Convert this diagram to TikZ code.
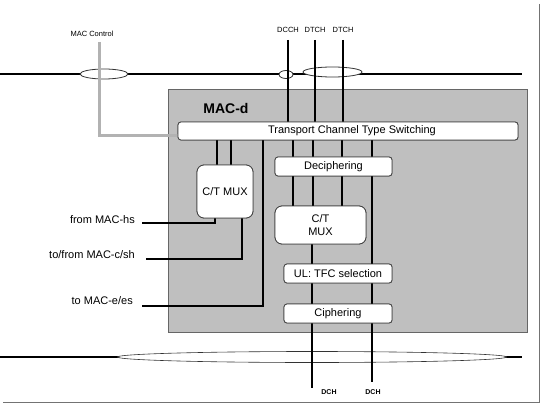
\documentclass[tikz,border=0pt]{standalone}
\usepackage{fontspec}
\setmainfont{Liberation Sans}
\usetikzlibrary{shapes.geometric}
\begin{document}
\begin{tikzpicture}[x=1pt,y=-1pt,
  box/.style={draw=black!75, line width=0.8pt, fill=white, rounded corners=3pt, inner sep=0pt, font=\fontsize{11}{13}\selectfont},
  muxbox/.style={box, rounded corners=7pt, align=center},
  ell/.style={ellipse, draw=black!80, line width=0.8pt, fill=white, inner sep=0pt},
  ch/.style={line width=2.8pt, black},
  hline/.style={line width=1.6pt, black},
  lbl/.style={font=\fontsize{11}{13}\selectfont, inner sep=0pt},
  small/.style={font=\fontsize{7.5}{9}\selectfont, inner sep=0pt}]
\useasboundingbox (0,0) rectangle (543,406);
% frame shadow
\draw[line width=1.8pt, black!55] (539.5,4) -- (539.5,402.5) -- (3,402.5);
% horizontal lines
\coordinate (tl) at (0,74);
\coordinate (tr) at (522,74);
\coordinate (bl) at (0,357);
\coordinate (br) at (522,357);
\draw[hline] (tl) -- (tr);
\draw[hline] (bl) -- (br);
% MAC-d box
\node[draw=black!60, line width=0.8pt, fill=black!25, minimum width=359pt, minimum height=243pt, anchor=north west, inner sep=0pt] (macd) at (168,89) {};
\node[font=\fontsize{14}{16}\selectfont\bfseries, inner sep=0pt] (macdlbl) at (226,108) {MAC-d};
% ellipses
\node[ell, minimum width=48pt, minimum height=10pt] (e1) at (104,74) {};
\node[ell, minimum width=14pt, minimum height=8pt] (e2) at (286,74.5) {};
\node[ell, minimum width=59pt, minimum height=10pt] (e3) at (332.5,72) {};
\node[ell, minimum width=389pt, minimum height=11pt, line width=0.6pt] (e4) at (312,357) {};
% boxes (placeholders for coordinates)
\path (348,131) node[box, minimum width=340pt, minimum height=18pt] (tcts) {};
% top labels
\node[small] (mcl) at (92,34) {MAC Control};
\node[small] (dcch) at (288,30) {DCCH};
\node[small] (dtch1) at (315,30) {DTCH};
\node[small] (dtch2) at (343,30) {DTCH};
% MAC control gray line
\coordinate (mcbend) at (99,136);
\draw[line width=3pt, black!30] (99,42) -- (mcbend) -- (mcbend -| tcts.west);
% channel lines from top
\draw[ch] (288,40) -- (288,0 |- tcts.north);
\draw[ch] (315,40) -- (315,0 |- tcts.north);
\draw[ch] (343,40) -- (343,0 |- tcts.north);
% inner nodes
\node[muxbox, minimum width=56pt, minimum height=53pt] (cmux1) at (225,191.5) {C/T MUX};
\node[box, minimum width=117pt, minimum height=19pt] (deciph) at (333.5,166.5) {Deciphering};
\node[muxbox, minimum width=91pt, minimum height=38pt] (cmux2) at (320.5,225) {C/T\\MUX};
\node[box, minimum width=108pt, minimum height=19pt] (tfc) at (338,273.5) {UL: TFC selection};
\node[box, minimum width=108pt, minimum height=19pt] (ciph) at (338,313.5) {Ciphering};
% left labels
\node[lbl, anchor=east] (hs) at (135,220) {from MAC-hs};
\node[lbl, anchor=east] (csh) at (135,255) {to/from MAC-c/sh};
\node[lbl, anchor=east] (ees) at (133,301) {to MAC-e/es};
% DCH labels
\node[small, font=\fontsize{7}{8}\selectfont\bfseries] (dch1) at (329,392) {DCH};
\node[small, font=\fontsize{7}{8}\selectfont\bfseries] (dch2) at (373,392) {DCH};
% connectors (drawn, then boxes redrawn on top)
\begin{scope}[on background layer/.style={}]
\draw[ch] (263,0 |- tcts.south) -- (263,306) -- (142,306);
\draw[ch] (217,0 |- tcts.south) -- (217,0 |- cmux1.north);
\draw[ch] (231,0 |- tcts.south) -- (231,0 |- cmux1.north);
\draw[ch] (215,0 |- cmux1.south) -- (215,223) -- (142,223);
\draw[ch] (242,0 |- cmux1.south) -- (242,259) -- (146,259);
\draw[ch] (293,0 |- tcts.south) -- (293,0 |- cmux2.north);
\draw[ch] (313,0 |- tcts.south) -- (313,0 |- cmux2.north);
\draw[ch] (342,0 |- tcts.south) -- (342,0 |- cmux2.north);
\draw[ch] (372,0 |- tcts.south) -- (372,382);
\draw[ch] (312,0 |- cmux2.south) -- (312,388);
\end{scope}
% redraw boxes on top of lines
\node[box, minimum width=340pt, minimum height=18pt] at (tcts) {\hspace*{8pt}Transport Channel Type Switching};
\node[muxbox, minimum width=56pt, minimum height=53pt] at (cmux1) {C/T MUX};
\node[box, minimum width=117pt, minimum height=19pt] at (deciph) {Deciphering};
\node[muxbox, minimum width=91pt, minimum height=38pt] at (cmux2) {C/T\\MUX};
\node[box, minimum width=108pt, minimum height=19pt] at (tfc) {UL: TFC selection};
\node[box, minimum width=108pt, minimum height=19pt] at (ciph) {Ciphering};
\end{tikzpicture}
\end{document}
